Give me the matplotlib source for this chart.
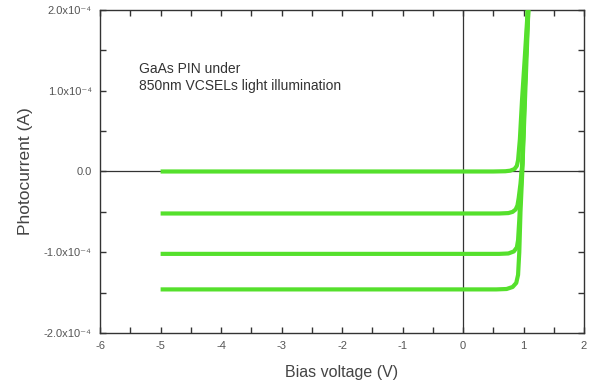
import matplotlib.pyplot as plt
from matplotlib.ticker import MultipleLocator, FuncFormatter

plt.rcParams['font.family'] = ['Liberation Sans', 'DejaVu Sans']
plt.rcParams['axes.unicode_minus'] = False

# photocurrent curves (units of 1e-4 A) for four illumination levels
x_a = [-5, 0.5, 0.7, 0.78, 0.85, 0.89, 0.91, 0.94, 0.975, 1.02, 1.07]
y_a = [0, 0, 0.003, 0.01, 0.03, 0.07, 0.14, 0.4, 0.88, 1.4, 2.0]

x_b = [-5, 0.6, 0.75, 0.82, 0.87, 0.9, 0.92, 0.95, 0.98, 1.0, 1.03, 1.07]
y_b = [-0.52, -0.52, -0.515, -0.5, -0.47, -0.42, -0.33, -0.15, 0.1, 0.5, 1.2, 2.0]

x_c = [-5, 0.6, 0.75, 0.84, 0.89, 0.91, 0.93, 0.95, 0.98, 1.0, 1.04, 1.08]
y_c = [-1.02, -1.02, -1.015, -0.99, -0.94, -0.85, -0.6, -0.3, 0.1, 0.6, 1.4, 2.0]

x_d = [-5, 0.55, 0.72, 0.82, 0.88, 0.91, 0.93, 0.95, 0.98, 1.01, 1.05, 1.08]
y_d = [-1.46, -1.46, -1.455, -1.43, -1.38, -1.28, -1.0, -0.5, 0.0, 0.6, 1.4, 2.0]

curves = [(x_a, y_a), (x_b, y_b), (x_c, y_c), (x_d, y_d)]
green = '#55e02c'

fig = plt.figure(figsize=(5.89, 3.83), dpi=100)
ax = fig.add_axes([0.170, 0.1305, 0.8215, 0.8435])

ax.axhline(0, color='#333333', lw=0.9, zorder=1)
ax.axvline(0, color='#333333', lw=0.9, zorder=1)

for xs, ys in curves:
    ax.plot(xs, [v * 1e-4 for v in ys], color=green, lw=3.0, solid_capstyle='butt', zorder=3)

ax.set_xlim(-6, 2)
ax.set_ylim(-2e-4, 2e-4)

ax.xaxis.set_major_locator(MultipleLocator(1))
ax.xaxis.set_minor_locator(MultipleLocator(0.5))
ax.yaxis.set_major_locator(MultipleLocator(1e-4))
ax.yaxis.set_minor_locator(MultipleLocator(0.5e-4))


def yfmt(v, pos):
    if abs(v) < 1e-12:
        return '0.0'
    return '%.1fx10\u207b\u2074' % (v / 1e-4)


ax.yaxis.set_major_formatter(FuncFormatter(yfmt))
ax.xaxis.set_major_formatter(FuncFormatter(lambda v, p: '%d' % v))

ax.tick_params(which='both', direction='in', top=True, right=True,
               labelsize=8, labelcolor='#555555', color='#333333')
ax.tick_params(which='major', length=4, width=1)
ax.tick_params(which='minor', length=4, width=1)
ax.tick_params(axis='x', pad=6)
ax.tick_params(axis='y', pad=6)

for s in ax.spines.values():
    s.set_color('#333333')
    s.set_linewidth(1)

ax.set_xlabel('Bias voltage (V)', fontsize=11.5, color='#444444', labelpad=10)
ax.set_ylabel('Photocurrent (A)', fontsize=12.5, color='#444444', labelpad=8)

ax.text(-5.35, 1.35e-4, 'GaAs PIN under\n850nm VCSELs light illumination',
        fontsize=10, color='#333333', va='top', ha='left', linespacing=1.2)

fig.savefig('out.png', dpi=100)
